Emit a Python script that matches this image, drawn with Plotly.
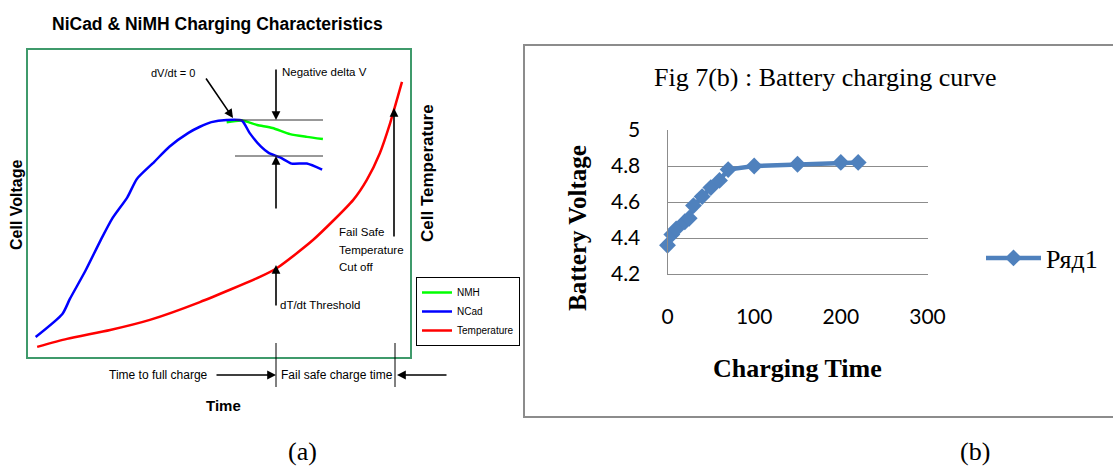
import plotly.graph_objects as go

W, H = 1113, 469

def px(x):
    return x / W

def py(y):
    return 1 - y / H

# ---------------- Panel (a): qualitative charging curves (arbitrary units 0-100) ----------------
ncad_time = [2, 9, 11, 15, 19, 22, 26, 28.5, 33, 37, 42, 45, 48, 52, 56, 58, 61, 63, 66, 69, 73, 77]
ncad_volt = [6.5, 14, 19, 28, 38, 45, 52, 58, 63.5, 68.5, 73, 75, 76.5, 77.2, 77, 73, 68.5, 66.5, 65, 63, 63, 61]

nmh_time = [52, 56, 60, 64, 68.6, 73, 77.2]
nmh_volt = [76.5, 77, 75.6, 74.6, 72.6, 71.7, 71.0]

temp_time = [2.4, 10.2, 21.5, 31.9, 45, 60.7, 65.2, 74.6, 85.1, 88.7, 92.1, 94.8, 97.9]
temp_val = [3.3, 5.9, 8.8, 12.1, 17.9, 26.1, 29, 38.1, 51.1, 57.7, 66.4, 76.2, 89.6]

# ---------------- Panel (b): battery charging curve ----------------
charge_time = [0, 5, 10, 20, 25, 30, 40, 50, 60, 70, 100, 150, 200, 220]
battery_volt = [4.36, 4.42, 4.45, 4.49, 4.51, 4.58, 4.63, 4.68, 4.72, 4.78, 4.80, 4.81, 4.82, 4.82]
x_ticks_b = [0, 100, 200, 300]
y_ticks_b = [4.2, 4.4, 4.6, 4.8, 5]
y_ticktext_b = ["4.2", "4.4", "4.6", "4.8", "5"]

SANS = "Liberation Sans, Arial, sans-serif"
SERIF = "Liberation Serif, Times New Roman, serif"
TICK = "Lato, Open Sans, sans-serif"

fig = go.Figure()

fig.add_trace(go.Scatter(x=nmh_time, y=nmh_volt, mode="lines", name="NMH",
                         line=dict(color="#00ff00", width=2.5, shape="spline", smoothing=0.6),
                         legend="legend", legendrank=1, xaxis="x", yaxis="y"))
fig.add_trace(go.Scatter(x=ncad_time, y=ncad_volt, mode="lines", name="NCad",
                         line=dict(color="#0000ff", width=2.5, shape="spline", smoothing=0.6),
                         legend="legend", legendrank=2, xaxis="x", yaxis="y"))
fig.add_trace(go.Scatter(x=temp_time, y=temp_val, mode="lines", name="Temperature",
                         line=dict(color="#ff0000", width=2.5, shape="spline", smoothing=0.6),
                         legend="legend", legendrank=3, xaxis="x", yaxis="y"))

fig.add_trace(go.Scatter(x=charge_time, y=battery_volt, mode="lines+markers", name="Ряд1",
                         line=dict(color="#4f81bd", width=4.5),
                         marker=dict(symbol="diamond", size=13, color="#4f81bd"),
                         cliponaxis=False,
                         legend="legend2", xaxis="x2", yaxis="y2"))

ann = []

def text(x, y, s, size, family=SANS, xanchor="center", angle=0):
    ann.append(dict(x=px(x), y=py(y), xref="paper", yref="paper", text=s, showarrow=False,
                    xanchor=xanchor, yanchor="middle", textangle=angle,
                    font=dict(size=size, family=family, color="black")))

def arrow(x_tip, y_tip, x_tail, y_tail, width=1.6):
    ann.append(dict(x=px(x_tip), y=py(y_tip), xref="paper", yref="paper", text="",
                    showarrow=True, ax=x_tail - x_tip, ay=y_tail - y_tip,
                    axref="pixel", ayref="pixel",
                    arrowhead=2, arrowsize=1.1, arrowwidth=width, arrowcolor="black"))

# panel (a) texts
text(217, 24, "<b>NiCad & NiMH Charging Characteristics</b>", 17.5)
text(16, 205, "<b>Cell Voltage</b>", 16, angle=-90)
text(427, 173, "<b>Cell Temperature</b>", 17, angle=-90)
text(173, 73, "dV/dt = 0", 11)
text(280, 72, "Negative delta V", 11.5, xanchor="left")
text(278, 305, "dT/dt Threshold", 11.5, xanchor="left")
text(337, 232, "Fail Safe", 11.5, xanchor="left")
text(337, 250, "Temperature", 11.5, xanchor="left")
text(337, 267, "Cut off", 11.5, xanchor="left")
text(210, 375, "Time to full charge", 12, xanchor="right")
text(279, 375, "Fail safe charge time", 12, xanchor="left")
text(223, 405, "<b>Time</b>", 15)
text(302, 451, "(a)", 26, family=SERIF)

# panel (a) arrows
arrow(233, 118, 205, 77)
arrow(276, 120, 276, 68)
arrow(276, 156, 276, 210)
arrow(276, 265, 276, 307)
arrow(394, 108, 394, 238)
arrow(276, 375, 215, 375)
arrow(397, 375, 448, 375)

# panel (b) texts
text(825, 77, "Fig 7(b) : Battery charging curve", 26, family=SERIF)
text(577, 228, "<b>Battery Voltage</b>", 25, family=SERIF, angle=-90)
text(797, 368, "<b>Charging Time</b>", 26, family=SERIF)
text(975, 451, "(b)", 26, family=SERIF)

shapes = []

def seg(x0, y0, x1, y1, color="black", width=1):
    shapes.append(dict(type="line", xref="paper", yref="paper",
                       x0=px(x0), y0=py(y0), x1=px(x1), y1=py(y1),
                       line=dict(color=color, width=width)))

seg(235, 120, 323, 120, color="#333333")
seg(235, 156, 323, 156, color="#333333")
seg(276, 343, 276, 387)
seg(395, 343, 395, 387)

# panel (b) outer frame
shapes.append(dict(type="rect", xref="paper", yref="paper",
                   x0=px(524), y0=py(417), x1=px(1125), y1=py(45),
                   line=dict(color="#8c8c8c", width=2), fillcolor="rgba(0,0,0,0)"))

fig.update_layout(
    width=W, height=H, autosize=False,
    margin=dict(l=0, r=0, t=0, b=0, autoexpand=False),
    paper_bgcolor="white", plot_bgcolor="white",
    annotations=ann, shapes=shapes,
    xaxis=dict(domain=[px(28), px(410)], range=[0, 100], showgrid=False, zeroline=False,
               showticklabels=False, ticks="", showline=True, mirror=True,
               linecolor="#3f9a6b", linewidth=2, anchor="y"),
    yaxis=dict(domain=[py(357), py(50)], range=[0, 100], showgrid=False, zeroline=False,
               showticklabels=False, ticks="", showline=True, mirror=True,
               linecolor="#3f9a6b", linewidth=2, anchor="x"),
    xaxis2=dict(domain=[px(667.5), px(927.5)], range=[0, 300], tickvals=x_ticks_b,
                showgrid=False, zeroline=False, ticks="", showline=True,
                linecolor="#8c8c8c", linewidth=1, anchor="y2",
                ticklabelstandoff=24,
                tickfont=dict(family=TICK, size=21, color="black")),
    yaxis2=dict(domain=[py(274), py(130)], range=[4.2, 5], tickvals=y_ticks_b,
                ticktext=y_ticktext_b,
                showgrid=True, gridcolor="#8c8c8c", gridwidth=1, zeroline=False, ticks="",
                showline=True, linecolor="#8c8c8c", linewidth=1, anchor="x2",
                ticklabelstandoff=22,
                tickfont=dict(family=TICK, size=21, color="black")),
    legend=dict(x=px(416), y=py(277), xanchor="left", yanchor="top",
                bordercolor="black", borderwidth=1, bgcolor="white",
                font=dict(size=10, family=SANS, color="black"), itemwidth=30,
                tracegroupgap=0),
    legend2=dict(x=px(981), y=py(258), xanchor="left", yanchor="middle",
                 bgcolor="rgba(0,0,0,0)", borderwidth=0,
                 font=dict(size=26, family=SERIF, color="black"), itemwidth=55),
    showlegend=True,
)

fig.write_html("out.html",
               config={"displayModeBar": False},
               post_script="document.body.style.margin='0px';"
                           "document.documentElement.style.overflow='hidden';")
